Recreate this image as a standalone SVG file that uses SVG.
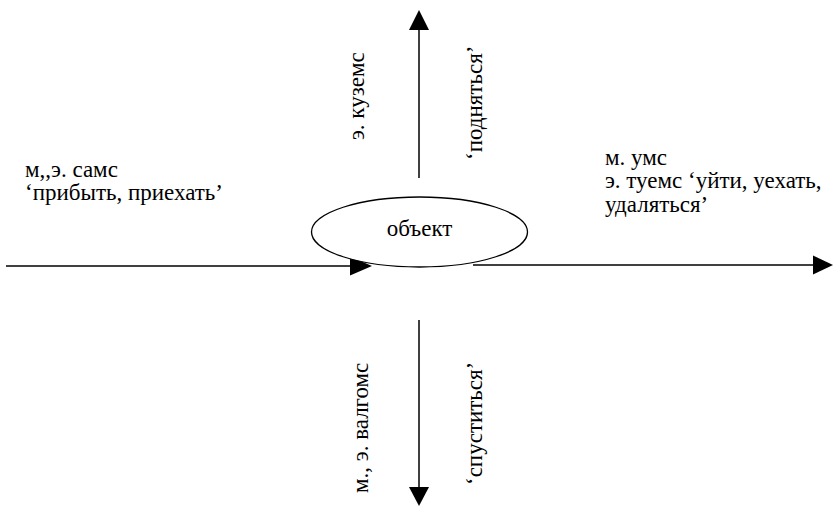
<svg xmlns="http://www.w3.org/2000/svg" width="833" height="507" viewBox="0 0 833 507">
  <style>
    text { font-family: "Liberation Serif", Tinos, "Times New Roman", "DejaVu Serif", "Noto Serif", FreeSerif, "Nimbus Roman", serif; font-size: 23px; fill: #000; }
    .ln { stroke: #000; stroke-width: 1.5; fill: none; }
    .ah { fill: #000; }
  </style>
  <rect width="833" height="507" fill="#fff"/>
  <g id="connectors">
    <line class="ln" x1="6" y1="266" x2="352" y2="266"/>
    <polygon class="ah" points="350,256.5 372,266 350,275.5"/>
    <line class="ln" x1="473" y1="265" x2="815" y2="265"/>
    <polygon class="ah" points="813,255.5 833,265 813,274.5"/>
    <line class="ln" x1="419" y1="178" x2="419" y2="28"/>
    <polygon class="ah" points="409,30 419,10 429,30"/>
    <line class="ln" x1="419" y1="320" x2="419" y2="489"/>
    <polygon class="ah" points="409,487 419,506 429,487"/>
  </g>
  <g id="object">
    <ellipse cx="419.5" cy="232" rx="108" ry="35" fill="#fff" stroke="#000" stroke-width="1.3"/>
    <text x="419.5" y="236" text-anchor="middle">объект</text>
  </g>
  <g id="label-left">
    <text x="25" y="177">м,,э. самс</text>
    <text x="25" y="200">‘прибыть, приехать’</text>
  </g>
  <g id="label-right">
    <text x="605" y="165">м. умс</text>
    <text x="605" y="188">э. туемс ‘уйти, уехать,</text>
    <text x="605" y="212">удаляться’</text>
  </g>
  <g id="label-up">
    <text transform="translate(364,140) rotate(-90)">э. куземс</text>
    <text transform="translate(482,160) rotate(-90)">‘подняться’</text>
  </g>
  <g id="label-down">
    <text transform="translate(368,493) rotate(-90)">м., э. валгомс</text>
    <text transform="translate(482,485) rotate(-90)">‘спуститься’</text>
  </g>
</svg>
